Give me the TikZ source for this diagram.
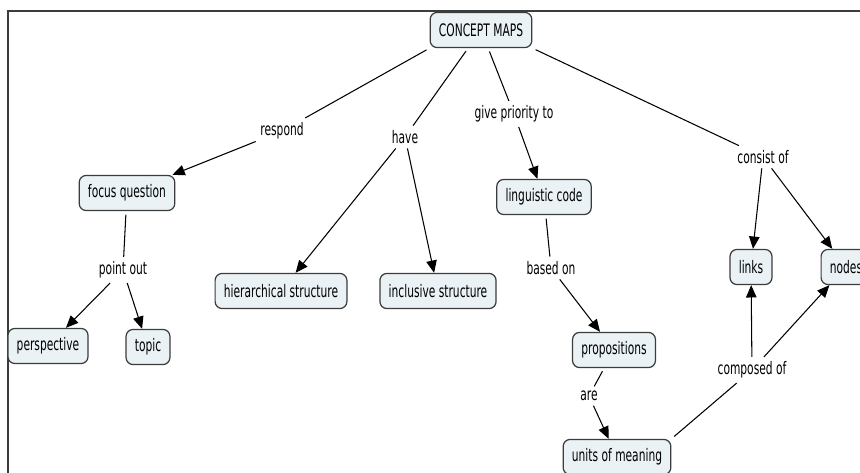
\documentclass[tikz,border=0pt]{standalone}
\usepackage{fontspec}
\setmainfont{DejaVu Sans}[FakeStretch=0.62]
\usetikzlibrary{arrows.meta}
\definecolor{boxfill}{RGB}{234,242,245}
\definecolor{boxline}{RGB}{60,60,60}
\begin{document}
\begin{tikzpicture}[x=0.02cm,y=-0.02cm,
    concept/.style={draw=boxline,fill=boxfill,line width=0.7pt,rounded corners=4pt,
      minimum height=20pt,inner xsep=5pt,font=\fontsize{9.8}{11}\selectfont},
    lbl/.style={inner sep=2.5pt,font=\fontsize{9.8}{11}\selectfont},
    ln/.style={line width=0.6pt,shorten <=2pt},
    arr/.style={line width=0.6pt,-{Triangle[length=7pt,width=6pt]}}]
            \useasboundingbox (0,0) rectangle (860,473);
            \clip (0,0) rectangle (860,473);
            \draw[line width=1.2pt,boxline] (8,480) |- (870,11);

            \node[concept] (CM) at (481,30) {CONCEPT MAPS};
            \node[concept] (FQ) at (127,193) {focus question};
            \node[concept] (PE) at (48,346) {perspective};
            \node[concept] (TO) at (148,347) {topic};
            \node[concept] (HS) at (281,291) {hierarchical structure};
            \node[concept] (IS) at (438,291) {inclusive structure};
            \node[concept] (LC) at (544,197) {linguistic code};
            \node[concept] (PR) at (614,350) {propositions};
            \node[concept] (UM) at (617,457) {units of meaning};
            \node[concept] (LI) at (751,267) {links};
            \node[concept] (NO) at (846,267) {nodes};

            \node[lbl] (r) at (282,131) {respond};
            \node[lbl] (h) at (405,137) {have};
            \node[lbl] (g) at (514,114) {give priority to};
            \node[lbl] (c) at (763,157) {consist of};
            \node[lbl] (p) at (123,270) {point out};
            \node[lbl] (b) at (551,268) {based on};
            \node[lbl] (a) at (589,396) {are};
            \node[lbl] (k) at (752,370) {composed of};

            \draw[ln] (CM.south west) -- (r);
            \draw[arr] (r) -- (FQ);
            \draw[ln] (CM) -- (h);
            \draw[arr] (h) -- (HS);
            \draw[arr] (h) -- (IS);
            \draw[ln] (CM) -- (g);
            \draw[arr] (g) -- (LC);
            \draw[ln] (CM.south east) -- (c);
            \draw[arr] (c) -- (LI);
            \draw[arr] (c) -- (NO);
            \draw[ln] (FQ) -- (p);
            \draw[arr] (p) -- (PE);
            \draw[arr] (p) -- (TO);
            \draw[ln] (LC) -- (b);
            \draw[arr] (b) -- (PR);
            \draw[ln] (PR) -- (a);
            \draw[arr] (a) -- (UM);
            \draw[ln] (UM.north east) -- (k);
            \draw[arr] (k) -- (LI);
            \draw[arr] (k) -- (NO);
          \end{tikzpicture}
\end{document}
